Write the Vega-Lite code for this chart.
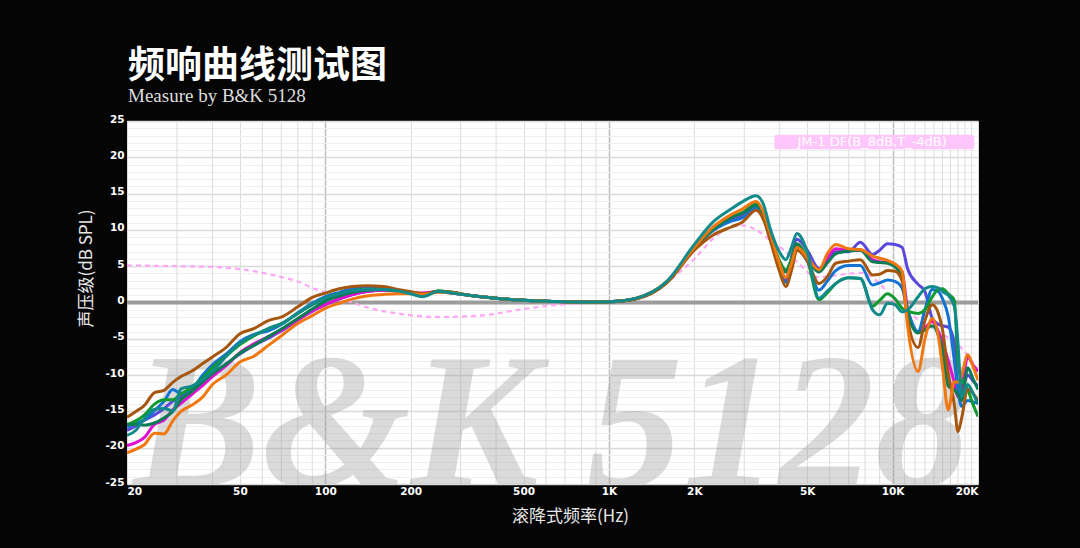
{
  "$schema": "https://vega.github.io/schema/vega-lite/v6.json",
  "autosize": "none",
  "width": 851,
  "height": 363,
  "padding": {"left": 127, "top": 121, "right": 102, "bottom": 64},
  "background": "#050505",
  "view": {"fill": "#ffffff", "stroke": null},
  "title": {
    "text": "频响曲线测试图",
    "subtitle": "Measure by B&K 5128",
    "anchor": "start",
    "frame": "group",
    "offset": 7,
    "color": "#ffffff",
    "font": "Noto Sans CJK SC",
    "fontWeight": 700,
    "fontSize": 37,
    "subtitleColor": "#dddddd",
    "subtitleFont": "Liberation Serif",
    "subtitleFontSize": 19,
    "subtitlePadding": 1,
    "dx": 1
  },
  "datasets": {
    "minorgrid": [
      {"f":30},{"f":40},{"f":60},{"f":70},{"f":80},{"f":90},
      {"f":300},{"f":400},{"f":600},{"f":700},{"f":800},{"f":900},
      {"f":3000},{"f":4000},{"f":6000},{"f":7000},{"f":8000},{"f":9000},
      {"f":11000},{"f":12000},{"f":13000},{"f":14000},{"f":15000},{"f":16000},{"f":17000},{"f":18000},{"f":19000}
    ],
    "curves": [
      {"f":20,"brown":-15.8,"orange":-20.7,"magenta":-19.7,"purple":-17.6,"blue":-17.2,"green":-16.8,"teal":-18.3,"dkgreen":-16.8},
      {"f":21.5,"brown":-15,"orange":-20.2,"magenta":-19.3,"purple":-17,"blue":-16.6,"green":-16.3,"teal":-17.6,"dkgreen":-16.8},
      {"f":23,"brown":-14.2,"orange":-19.6,"magenta":-18.6,"purple":-16.2,"blue":-16.2,"green":-15.5,"teal":-16,"dkgreen":-16.9},
      {"f":25,"brown":-12.4,"orange":-18,"magenta":-16.8,"purple":-15.5,"blue":-14.9,"green":-14,"teal":-14.7,"dkgreen":-16.6},
      {"f":27,"brown":-12.1,"orange":-18.1,"magenta":-16.2,"purple":-14.6,"blue":-13.6,"green":-13.4,"teal":-14.6,"dkgreen":-15.9},
      {"f":29,"brown":-11,"orange":-16.3,"magenta":-14.8,"purple":-13.6,"blue":-12,"green":-13.4,"teal":-14.9,"dkgreen":-15},
      {"f":31,"brown":-10.2,"orange":-15,"magenta":-13.9,"purple":-13,"blue":-12.5,"green":-12.6,"teal":-11.9,"dkgreen":-13.4},
      {"f":34,"brown":-9.4,"orange":-14.1,"magenta":-12.6,"purple":-12,"blue":-11.8,"green":-11.6,"teal":-11.5,"dkgreen":-12.2},
      {"f":37,"brown":-8.4,"orange":-13,"magenta":-11.4,"purple":-11,"blue":-10,"green":-10.4,"teal":-10.6,"dkgreen":-10.9},
      {"f":40,"brown":-7.5,"orange":-11.3,"magenta":-10.2,"purple":-9.9,"blue":-8.6,"green":-9,"teal":-9.5,"dkgreen":-9.8},
      {"f":45,"brown":-6.1,"orange":-9.9,"magenta":-8.6,"purple":-8.4,"blue":-7,"green":-7.3,"teal":-7.3,"dkgreen":-8.4},
      {"f":50,"brown":-4.3,"orange":-8.2,"magenta":-6.9,"purple":-7.1,"blue":-5.4,"green":-5.8,"teal":-5.6,"dkgreen":-7},
      {"f":56,"brown":-3.6,"orange":-7.4,"magenta":-5.7,"purple":-5.9,"blue":-4.4,"green":-4.6,"teal":-4.5,"dkgreen":-5.9},
      {"f":63,"brown":-2.5,"orange":-5.9,"magenta":-4.7,"purple":-4.9,"blue":-3.9,"green":-3.6,"teal":-3.6,"dkgreen":-4.7},
      {"f":71,"brown":-1.9,"orange":-4.4,"magenta":-3.7,"purple":-3.8,"blue":-2.9,"green":-2.8,"teal":-2.8,"dkgreen":-3.5},
      {"f":80,"brown":-0.6,"orange":-2.9,"magenta":-2.4,"purple":-2.4,"blue":-1.4,"green":-1.5,"teal":-1.5,"dkgreen":-2.2},
      {"f":90,"brown":0.7,"orange":-1.8,"magenta":-1.2,"purple":-1.2,"blue":-0.1,"green":-0.3,"teal":-0.3,"dkgreen":-0.9},
      {"f":100,"brown":1.3,"orange":-0.8,"magenta":-0.3,"purple":-0.3,"blue":0.8,"green":0.6,"teal":0.6,"dkgreen":0.2},
      {"f":112,"brown":1.9,"orange":-0.1,"magenta":0.5,"purple":0.5,"blue":1.4,"green":1.2,"teal":1.2,"dkgreen":0.9},
      {"f":125,"brown":2.2,"orange":0.5,"magenta":1.1,"purple":1.1,"blue":1.9,"green":1.6,"teal":1.6,"dkgreen":1.4},
      {"f":140,"brown":2.3,"orange":0.9,"magenta":1.5,"purple":1.5,"blue":2.1,"green":1.8,"teal":1.8,"dkgreen":1.7},
      {"f":160,"brown":2.2,"orange":1.1,"magenta":1.7,"purple":1.7,"blue":2,"green":1.8,"teal":1.8,"dkgreen":1.8},
      {"f":180,"brown":1.8,"orange":1.2,"magenta":1.6,"purple":1.6,"blue":1.7,"green":1.6,"teal":1.6,"dkgreen":1.6},
      {"f":200,"brown":1.5,"orange":1.2,"magenta":1.4,"purple":1.4,"blue":1.4,"green":1.3,"teal":1.2,"dkgreen":1.3},
      {"f":220,"brown":1.2,"orange":1.1,"magenta":1.3,"purple":1.2,"blue":1,"green":0.9,"teal":0.8,"dkgreen":1},
      {"f":250,"brown":1.5,"orange":1.4,"magenta":1.5,"purple":1.5,"blue":1.5,"green":1.6,"teal":1.5,"dkgreen":1.6},
      {"f":280,"brown":1.4,"orange":1.3,"magenta":1.3,"purple":1.3,"blue":1.3,"green":1.4,"teal":1.3,"dkgreen":1.4},
      {"f":320,"brown":1,"orange":1,"magenta":1,"purple":1,"blue":1,"green":1,"teal":1,"dkgreen":1},
      {"f":400,"brown":0.6,"orange":0.6,"magenta":0.6,"purple":0.6,"blue":0.6,"green":0.6,"teal":0.6,"dkgreen":0.6},
      {"f":500,"brown":0.3,"orange":0.3,"magenta":0.3,"purple":0.3,"blue":0.3,"green":0.3,"teal":0.3,"dkgreen":0.3},
      {"f":630,"brown":0.15,"orange":0.15,"magenta":0.15,"purple":0.15,"blue":0.15,"green":0.15,"teal":0.15,"dkgreen":0.15},
      {"f":800,"brown":0.05,"orange":0.05,"magenta":0.05,"purple":0.05,"blue":0.05,"green":0.05,"teal":0.05,"dkgreen":0.05},
      {"f":1000,"brown":0.1,"orange":0.1,"magenta":0.1,"purple":0.1,"blue":0.1,"green":0.1,"teal":0.1,"dkgreen":0.1},
      {"f":1250,"brown":0.5,"orange":0.6,"magenta":0.55,"purple":0.55,"blue":0.55,"green":0.55,"teal":0.6,"dkgreen":0.55},
      {"f":1600,"brown":2.7,"orange":2.9,"magenta":2.8,"purple":2.8,"blue":2.8,"green":2.8,"teal":2.9,"dkgreen":2.8},
      {"f":2000,"brown":7.2,"orange":7.6,"magenta":7.5,"purple":7.5,"blue":7.5,"green":7.5,"teal":8,"dkgreen":7.5},
      {"f":2330,"brown":9.3,"orange":10.4,"magenta":10.1,"purple":10,"blue":9.9,"green":10.1,"teal":11.1,"dkgreen":10.1},
      {"f":2700,"brown":10.4,"orange":12.1,"magenta":11.7,"purple":11.3,"blue":11.2,"green":11.8,"teal":12.9,"dkgreen":11.7},
      {"f":2960,"brown":11.1,"orange":12.9,"magenta":12.3,"purple":11.9,"blue":11.7,"green":12.4,"teal":13.9,"dkgreen":12.3},
      {"f":3300,"brown":12.7,"orange":13.9,"magenta":13.4,"purple":13,"blue":13,"green":13.6,"teal":14.7,"dkgreen":13.4},
      {"f":3500,"brown":11.5,"orange":12.5,"magenta":12,"purple":11.8,"blue":11.7,"green":12.3,"teal":13.6,"dkgreen":12.2},
      {"f":3700,"brown":8.6,"orange":9.6,"magenta":9.3,"purple":9,"blue":9,"green":9.4,"teal":10.2,"dkgreen":9.3},
      {"f":4000,"brown":4.2,"orange":5.3,"magenta":5,"purple":5,"blue":4.7,"green":5.7,"teal":6.9,"dkgreen":5.4},
      {"f":4200,"brown":2.2,"orange":3.4,"magenta":3,"purple":3.1,"blue":2.8,"green":4.5,"teal":5.9,"dkgreen":4.2},
      {"f":4400,"brown":4.4,"orange":5.4,"magenta":5.4,"purple":6.2,"blue":4.7,"green":6,"teal":7.6,"dkgreen":5.7},
      {"f":4600,"brown":7.2,"orange":7.6,"magenta":7.6,"purple":8.7,"blue":7.4,"green":8.1,"teal":9.5,"dkgreen":8},
      {"f":5000,"brown":5.8,"orange":6.2,"magenta":6.2,"purple":7.2,"blue":5.7,"green":6,"teal":7,"dkgreen":6},
      {"f":5500,"brown":2.6,"orange":4.5,"magenta":4.4,"purple":4.7,"blue":1.7,"green":0.4,"teal":0.6,"dkgreen":4.2},
      {"f":5900,"brown":3.6,"orange":6.8,"magenta":6.2,"purple":6,"blue":3,"green":1.4,"teal":1.6,"dkgreen":5.5},
      {"f":6300,"brown":5.4,"orange":8,"magenta":7.4,"purple":7,"blue":4.4,"green":2.6,"teal":2.6,"dkgreen":6.7},
      {"f":7000,"brown":5.7,"orange":7.4,"magenta":7.2,"purple":7,"blue":5.1,"green":3.4,"teal":3.4,"dkgreen":7.1},
      {"f":7700,"brown":5.9,"orange":7.3,"magenta":7.2,"purple":8.3,"blue":5.1,"green":3.3,"teal":3.3,"dkgreen":7.2},
      {"f":8500,"brown":3.8,"orange":6.4,"magenta":5.9,"purple":6.6,"blue":2.4,"green":-0.5,"teal":-1,"dkgreen":5.6},
      {"f":9000,"brown":3.9,"orange":6.1,"magenta":5.6,"purple":7.2,"blue":2.7,"green":0.3,"teal":-1.7,"dkgreen":5.5},
      {"f":9600,"brown":4.4,"orange":5.8,"magenta":5.5,"purple":8.1,"blue":3.1,"green":1.2,"teal":-0.1,"dkgreen":5.4},
      {"f":10200,"brown":4.3,"orange":5.3,"magenta":5.2,"purple":8,"blue":2.9,"green":0.5,"teal":-0.3,"dkgreen":4.9},
      {"f":10800,"brown":3,"orange":4.3,"magenta":4.2,"purple":7.6,"blue":2,"green":-0.8,"teal":-1.3,"dkgreen":3.6},
      {"f":11300,"brown":-2.4,"orange":-3.3,"magenta":-1,"purple":4.6,"blue":-1,"green":-1.2,"teal":-1,"dkgreen":-1.5},
      {"f":12300,"brown":-6.2,"orange":-9.5,"magenta":-4,"purple":2.5,"blue":-4,"green":-1.5,"teal":0.8,"dkgreen":-4.2},
      {"f":13000,"brown":-2.5,"orange":-5,"magenta":-3.5,"purple":1.5,"blue":-1,"green":-1,"teal":1.9,"dkgreen":-3.8},
      {"f":13800,"brown":-0.3,"orange":-2.2,"magenta":-2.6,"purple":-2.2,"blue":1.8,"green":0.8,"teal":2.2,"dkgreen":-3.2},
      {"f":14500,"brown":-1.5,"orange":-4.7,"magenta":-4,"purple":-3,"blue":1.5,"green":1.8,"teal":2,"dkgreen":-4.5},
      {"f":15000,"brown":-3.8,"orange":-9,"magenta":-5.4,"purple":-3.2,"blue":0.5,"green":1.9,"teal":1.5,"dkgreen":-6.5},
      {"f":15700,"brown":-9.7,"orange":-14.8,"magenta":-8,"purple":-3.4,"blue":-1.9,"green":1.2,"teal":1,"dkgreen":-11.5},
      {"f":16500,"brown":-14,"orange":-10.9,"magenta":-11,"purple":-5.5,"blue":-8,"green":0.3,"teal":-0.5,"dkgreen":-12},
      {"f":17000,"brown":-17.8,"orange":-11,"magenta":-13,"purple":-12,"blue":-12,"green":-8.3,"teal":-5.6,"dkgreen":-12.7},
      {"f":17500,"brown":-16,"orange":-10,"magenta":-12,"purple":-12,"blue":-14.3,"green":-10.5,"teal":-13,"dkgreen":-13.5},
      {"f":18400,"brown":-12,"orange":-7.2,"magenta":-7.5,"purple":-10,"blue":-13.5,"green":-12,"teal":-11.3,"dkgreen":-9},
      {"f":19200,"brown":-12.5,"orange":-8.8,"magenta":-8.6,"purple":-10.8,"blue":-13.7,"green":-14,"teal":-12.5,"dkgreen":-10.5},
      {"f":20000,"brown":-13.5,"orange":-10.7,"magenta":-9.5,"purple":-11.5,"blue":-13.9,"green":-15.7,"teal":-14,"dkgreen":-12}
    ],
    "target": [
      {"f":20,"db":5.1},{"f":30,"db":5},{"f":40,"db":4.9},{"f":50,"db":4.6},{"f":60,"db":4.1},{"f":70,"db":3.5},{"f":80,"db":2.9},{"f":90,"db":2},{"f":100,"db":1.4},
      {"f":119,"db":0.3},{"f":144,"db":-0.8},{"f":179,"db":-1.5},{"f":254,"db":-2},{"f":352,"db":-1.8},{"f":500,"db":-0.9},{"f":630,"db":-0.4},{"f":800,"db":-0.1},
      {"f":1000,"db":0.1},{"f":1250,"db":0.5},{"f":1510,"db":2},{"f":1800,"db":4.4},{"f":2000,"db":6},{"f":2330,"db":8.8},{"f":2700,"db":10.4},{"f":3000,"db":10.6},
      {"f":3300,"db":10},{"f":3700,"db":8.6},{"f":4200,"db":7},{"f":4600,"db":5.6},{"f":5400,"db":3.5},{"f":6500,"db":3.8},{"f":7700,"db":4.1},{"f":9000,"db":2.6},
      {"f":10000,"db":0.5},{"f":12400,"db":-2.4},{"f":14800,"db":-4.2},{"f":17700,"db":-6.5},{"f":20000,"db":-9.3}
    ]
  },
  "layer": [
    {
      "data": {"name": "minorgrid"},
      "mark": {"type": "rule", "color": "#dcdcdc", "strokeWidth": 1},
      "encoding": {
        "x": {
          "field": "f",
          "type": "quantitative",
          "scale": {"type": "log", "domain": [20, 20000], "nice": false},
          "axis": {
            "values": [20,50,100,200,500,1000,2000,5000,10000,20000],
            "tickCount": 200,
            "title": "滚降式频率(Hz)",
            "titleColor": "#e8e8e8",
            "titleFont": "Noto Sans CJK SC",
            "titleFontWeight": 400,
            "titleFontSize": 17,
            "titlePadding": 12,
            "titleX": 443,
            "labelColor": "#ffffff",
            "labelFont": "DejaVu Sans",
            "labelFontWeight": 700,
            "labelFontSize": 10.5,
            "labelPadding": 2,
            "labelFlush": true,
            "labelOverlap": false,
            "labelExpr": "datum.value >= 1000 ? datum.value / 1000 + 'K' : datum.value",
            "domain": false,
            "ticks": false,
            "grid": true,
            "gridColor": {"condition": {"test": "datum.value == 100 || datum.value == 1000 || datum.value == 10000", "value": "#bdbdbd"}, "value": "#dcdcdc"},
            "gridWidth": {"condition": {"test": "datum.value == 100 || datum.value == 1000 || datum.value == 10000", "value": 1.5}, "value": 1}
          }
        }
      }
    },
    {
      "data": {"values": [{"label": "B&K 5128"}]},
      "mark": {"type": "text", "font": "Liberation Serif", "fontWeight": "bold", "fontStyle": "italic", "fontSize": 192, "color": "#9a9a9a", "opacity": 0.36, "baseline": "alphabetic", "align": "center", "clip": true},
      "encoding": {
        "x": {"datum": 630, "type": "quantitative", "scale": {"type": "log", "domain": [20, 20000], "nice": false}},
        "y": {
          "datum": -25.3,
          "type": "quantitative",
          "scale": {"domain": [-25, 25], "nice": false},
          "axis": {
            "values": [-25,-24,-23,-22,-21,-20,-19,-18,-17,-16,-15,-14,-13,-12,-11,-10,-9,-8,-7,-6,-5,-4,-3,-2,-1,0,1,2,3,4,5,6,7,8,9,10,11,12,13,14,15,16,17,18,19,20,21,22,23,24,25],
            "tickCount": 200,
            "title": "声压级(dB SPL)",
            "titleColor": "#e8e8e8",
            "titleFont": "Noto Sans CJK SC",
            "titleFontWeight": 400,
            "titleFontSize": 17,
            "titleX": -32,
            "titleY": 147,
            "labelColor": "#ffffff",
            "labelFont": "DejaVu Sans",
            "labelFontWeight": 700,
            "labelFontSize": 10.5,
            "labelPadding": 3,
            "labelOffset": -2,
            "labelOverlap": false,
            "labelExpr": "datum.value % 5 == 0 ? datum.value : ''",
            "domain": false,
            "ticks": false,
            "grid": true,
            "gridColor": {"condition": {"test": "datum.value % 5 == 0", "value": "#dadada"}, "value": "#efefef"},
            "gridWidth": {"condition": {"test": "datum.value % 5 == 0", "value": 1.5}, "value": 1}
          }
        },
        "text": {"field": "label", "type": "nominal"}
      }
    },
    {
      "data": {"values": [{"db": 0}]},
      "mark": {"type": "rule", "color": "#9c9c9c", "strokeWidth": 4},
      "encoding": {
        "y": {"field": "db", "type": "quantitative", "scale": {"domain": [-25, 25], "nice": false}}
      }
    },
    {
      "data": {"name": "target"},
      "mark": {"type": "line", "color": "#ffa6f6", "strokeWidth": 2.2, "strokeDash": [5, 4], "interpolate": "monotone", "clip": true},
      "encoding": {
        "x": {"field": "f", "type": "quantitative", "scale": {"type": "log", "domain": [20, 20000], "nice": false}},
        "y": {"field": "db", "type": "quantitative", "scale": {"domain": [-25, 25], "nice": false}}
      }
    },
    {
      "data": {"name": "curves"},
      "transform": [
        {"fold": ["purple", "magenta", "blue", "green", "dkgreen", "brown", "orange", "teal"], "as": ["unit", "db"]}
      ],
      "mark": {"type": "line", "strokeWidth": 3, "interpolate": "monotone", "clip": true},
      "encoding": {
        "x": {"field": "f", "type": "quantitative", "scale": {"type": "log", "domain": [20, 20000], "nice": false}},
        "y": {"field": "db", "type": "quantitative", "scale": {"domain": [-25, 25], "nice": false}},
        "color": {
          "field": "unit",
          "type": "nominal",
          "legend": null,
          "scale": {
            "domain": ["purple", "magenta", "blue", "green", "dkgreen", "brown", "orange", "teal"],
            "range": ["#5a48dc", "#e010d0", "#1473d2", "#119a2e", "#0b7d55", "#a5560f", "#f0780f", "#118a8a"]
          }
        }
      }
    },
    {
      "data": {"values": [{"label": "JM-1 DF(B_8dB,T_-4dB)"}]},
      "mark": {"type": "rect", "color": "#ffc6fb", "cornerRadius": 2},
      "encoding": {
        "x": {"datum": 3830, "type": "quantitative", "scale": {"type": "log", "domain": [20, 20000], "nice": false}},
        "x2": {"datum": 19400},
        "y": {"datum": 23.1, "type": "quantitative", "scale": {"domain": [-25, 25], "nice": false}},
        "y2": {"datum": 21.1}
      }
    },
    {
      "data": {"values": [{"label": "JM-1 DF(B_8dB,T_-4dB)"}]},
      "mark": {"type": "text", "color": "#ffffff", "font": "DejaVu Sans", "fontSize": 13, "align": "center", "baseline": "middle"},
      "encoding": {
        "x": {"datum": 8473, "type": "quantitative", "scale": {"type": "log", "domain": [20, 20000], "nice": false}},
        "y": {"datum": 22.1, "type": "quantitative", "scale": {"domain": [-25, 25], "nice": false}},
        "text": {"field": "label", "type": "nominal"}
      }
    }
  ]
}
